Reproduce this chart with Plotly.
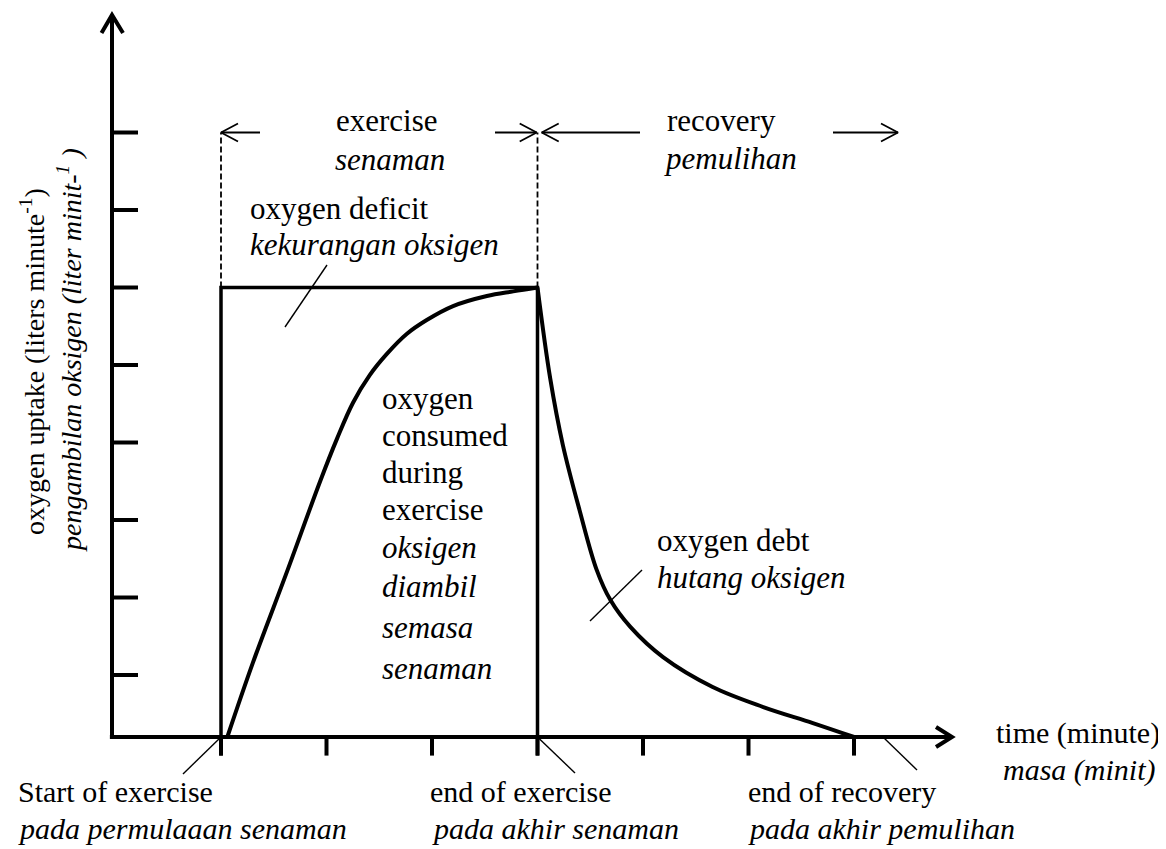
import plotly.graph_objects as go

# screenshot is 1166x849; the page body has an 8px margin
OFF = 8
W, H = 1166 - OFF, 849 - OFF

# ---- data (x in minutes-like units, y in oxygen-uptake units) ----
x_ticks = [1, 2, 3, 4, 5, 6, 7]
y_ticks = [0.8, 1.8, 2.8, 3.8, 4.8, 5.8, 6.8, 7.8]

start_exercise = 1.0
end_exercise = 4.0
end_recovery = 7.0
steady_state = 5.8
header_level = 7.8

rise_x = [1.06, 1.30, 1.63, 1.94, 2.10, 2.25, 2.41, 2.57, 2.76, 2.95, 3.20, 3.52, 3.77, 4.0]
rise_y = [0.0, 0.95, 2.15, 3.30, 3.85, 4.31, 4.67, 4.94, 5.20, 5.38, 5.56, 5.69, 5.75, 5.8]

decay_x = [4.0, 4.12, 4.24, 4.40, 4.56, 4.69, 4.88, 5.19, 5.66, 6.14, 6.61, 7.0]
decay_y = [5.8, 4.63, 3.77, 2.92, 2.16, 1.77, 1.42, 1.03, 0.645, 0.387, 0.18, 0.0]

y_title = ["oxygen uptake (liters minute<sup>-1</sup>)",
           "<i>pengambilan oksigen (liter minit-<sup>1</sup> )</i>"]
phase_en = ["exercise", "recovery"]
phase_my = ["senaman", "pemulihan"]
deficit_lbl = ["oxygen deficit", "kekurangan oksigen"]
consumed_lbl = ["oxygen", "consumed", "during", "exercise",
                "oksigen", "diambil", "semasa", "senaman"]
debt_lbl = ["oxygen debt", "hutang oksigen"]
bottom_en = ["Start of exercise", "end of exercise", "end of recovery"]
bottom_my = ["pada permulaaan senaman", "pada akhir senaman", "pada akhir pemulihan"]
time_lbl = ["time (minute)", "masa (minit)"]

# ---- pixel (screenshot) <-> data scale ----
X0, SX = 115.5, 105.5
Y0, SY = 737.0, 77.5
def dx(p): return (p - X0) / SX
def dy(p): return (Y0 - p) / SY
xrange_ = [dx(OFF), dx(1166)]
yrange_ = [dy(849), dy(OFF)]

yaxis_x = dx(112)
xaxis_end = dx(952)
yaxis_end = dy(15)

FONT = "'Liberation Serif', 'Times New Roman', serif"
BLACK = "black"

fig = go.Figure()

def line(xs, ys, width, dash=None, spline=False):
    ln = dict(color=BLACK, width=width, dash=dash)
    if spline:
        ln.update(shape="spline", smoothing=1.0)
    fig.add_trace(go.Scatter(x=xs, y=ys, mode="lines", line=ln,
                             hoverinfo="skip", showlegend=False))

# axes
line([yaxis_x - 0.02, xaxis_end], [0, 0], 4)
line([yaxis_x, yaxis_x], [-0.026, yaxis_end], 4)
line([dx(936), xaxis_end, dx(936)], [10 / SY, 0, -10 / SY], 4)
line([yaxis_x - 10.5 / SX, yaxis_x, yaxis_x + 11 / SX],
     [yaxis_end - 18 / SY, yaxis_end, yaxis_end - 18 / SY], 4)

# ticks
tx, ty = [], []
for t in x_ticks:
    tx += [t, t, None]
    ty += [0, -0.24, None]
line(tx, ty, 4)
tx, ty = [], []
for t in y_ticks:
    tx += [yaxis_x, dx(138), None]
    ty += [t, t, None]
line(tx, ty, 4)

# rectangle (steady-state demand)
line([start_exercise, start_exercise, end_exercise, end_exercise],
     [-0.24, steady_state, steady_state, -0.24], 3.5)

# dashed phase markers
line([start_exercise, start_exercise, None, end_exercise, end_exercise],
     [steady_state, header_level, None, steady_state, header_level], 1.8, dash="6px,3px")

# oxygen uptake curve
line(rise_x, rise_y, 4, spline=True)
line(decay_x, decay_y, 4, spline=True)

# header arrows
ah_dx, ah_dy = 17 / SX, 9 / SY
def harrow(x_from, x_tip):
    s = 1 if x_tip > x_from else -1
    line([x_from, x_tip, None, x_tip - s * ah_dx, x_tip, x_tip - s * ah_dx],
         [header_level, header_level, None, header_level + ah_dy, header_level,
          header_level - ah_dy], 1.8)
harrow(dx(260), start_exercise)
harrow(dx(495), dx(536.7))
harrow(dx(640), dx(541.7))
harrow(dx(833), dx(898))

# leader lines
line([dx(327), dx(285)], [dy(265), dy(327)], 1.4)
line([dx(642), dx(590)], [dy(570), dy(621)], 1.4)
line([start_exercise, dx(183)], [0, dy(774)], 1.4)
line([end_exercise, dx(575)], [0, dy(773)], 1.4)
line([dx(883), dx(917)], [0, dy(770)], 1.4)

# ---- text ----
ann = []
def txt(text, px, py, anchor="left", italic=False, size=31, angle=0):
    if italic:
        text = "<i>" + text + "</i>"
    ann.append(dict(text=text, x=(px - OFF) / W, y=1 - (py - OFF) / H,
                    xref="paper", yref="paper",
                    xanchor=anchor, yanchor="middle", showarrow=False,
                    textangle=angle, font=dict(family=FONT, size=size, color=BLACK)))

txt(y_title[0], 33, 362, anchor="center", size=28, angle=-90)
txt(y_title[1], 70, 350, anchor="center", size=28, angle=-90)

txt(phase_en[0], 387, 120, anchor="center")
txt(phase_my[0], 390, 160, anchor="center", italic=True)
txt(phase_en[1], 721, 120, anchor="center")
txt(phase_my[1], 730, 158, anchor="center", italic=True)

txt(deficit_lbl[0], 248, 208)
txt(deficit_lbl[1], 248, 245, italic=True)

cy = [398, 435, 472, 509, 547, 586, 627, 668]
for i, (w, yy) in enumerate(zip(consumed_lbl, cy)):
    txt(w, 380, yy, italic=(i >= 4))

txt(debt_lbl[0], 655, 540)
txt(debt_lbl[1], 655, 577, italic=True)

bx_en = [16, 428, 746]
bx_my = [16, 430, 746]
for i in range(3):
    txt(bottom_en[i], bx_en[i], 791, size=30)
    txt(bottom_my[i], bx_my[i], 828, italic=True, size=30)

txt(time_lbl[0], 1162, 733, anchor="right", size=30)
txt(time_lbl[1], 1158, 770, anchor="right", italic=True, size=30)

fig.update_layout(
    width=W, height=H,
    margin=dict(l=0, r=0, t=0, b=0),
    paper_bgcolor="white", plot_bgcolor="white",
    font=dict(family=FONT, color=BLACK),
    xaxis=dict(range=xrange_, visible=False, fixedrange=True),
    yaxis=dict(range=yrange_, visible=False, fixedrange=True),
    annotations=ann,
    showlegend=False,
)

fig.write_html("out.html")
